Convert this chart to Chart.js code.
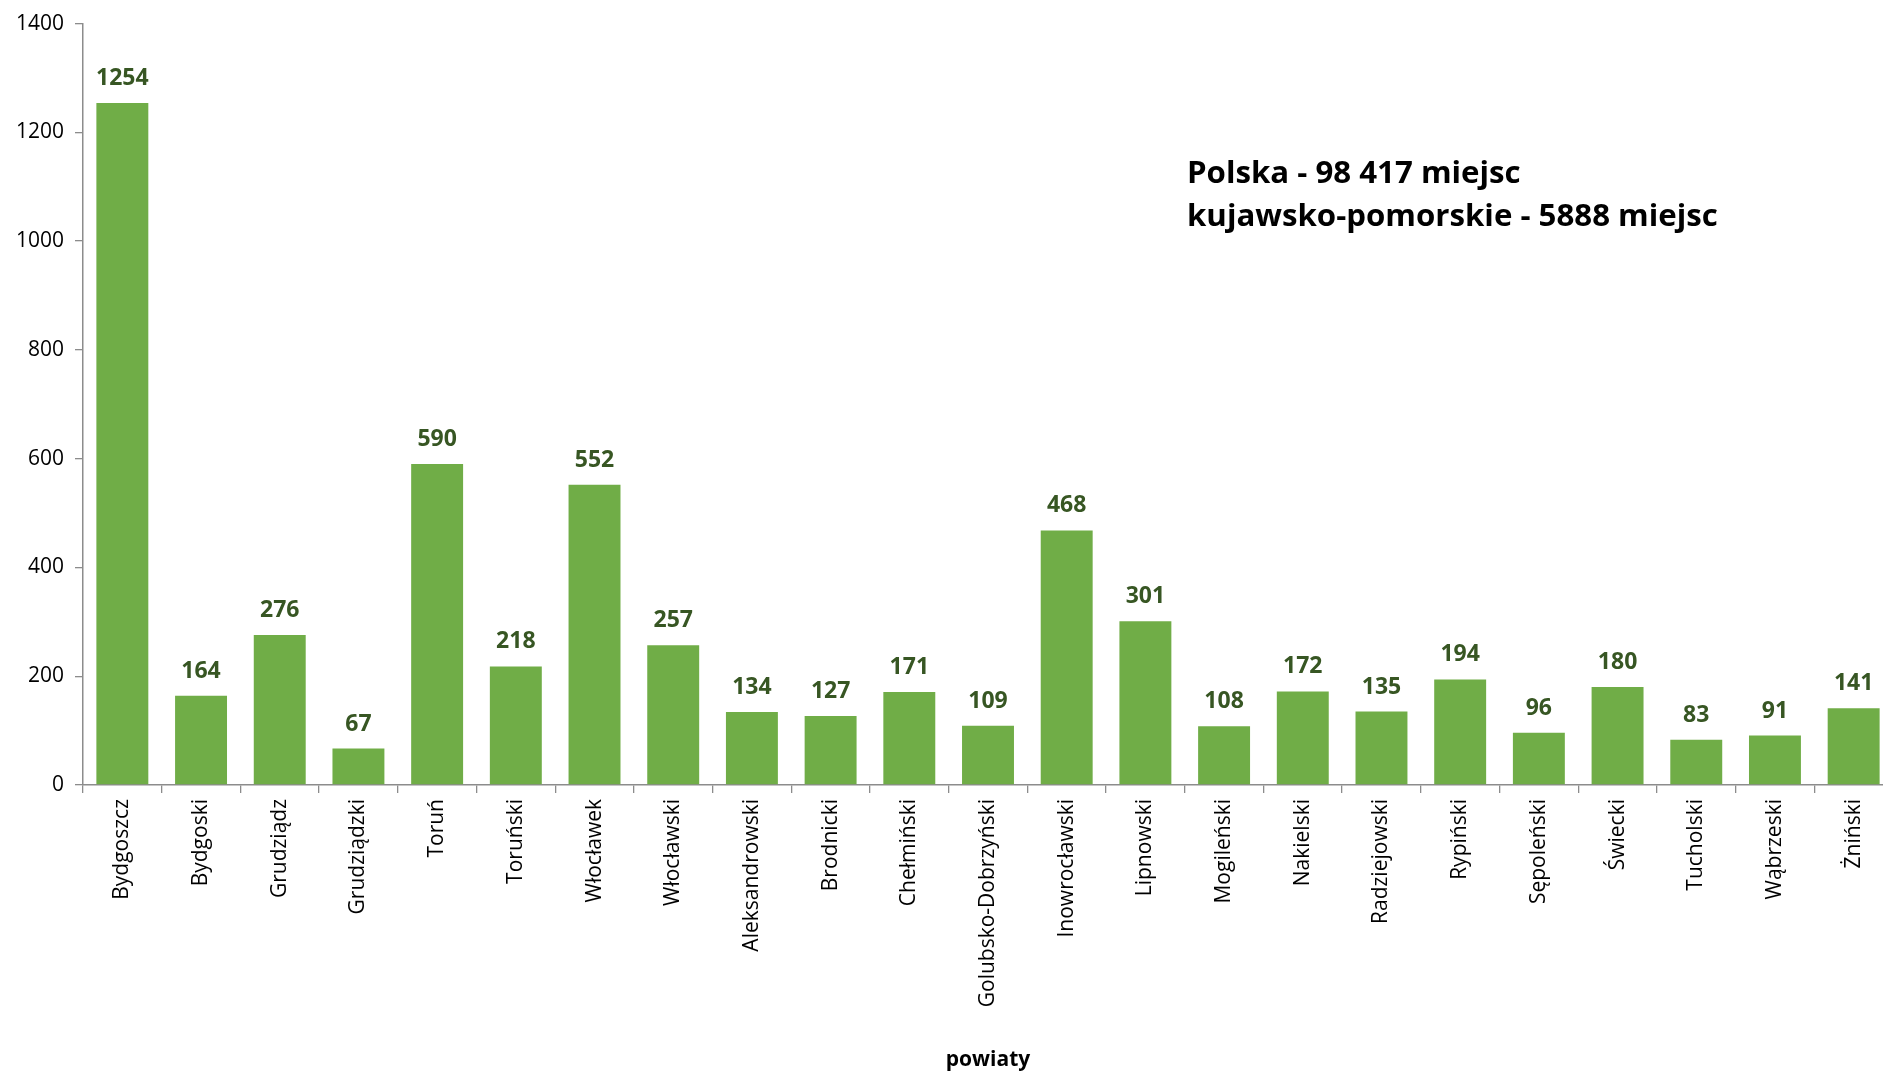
<!DOCTYPE html>
<html>
<head>
<meta charset="utf-8">
<script src="https://cdn.jsdelivr.net/npm/chart.js@4"></script>
<style>
  html, body { margin: 0; padding: 0; background: #fff; overflow: hidden; }
  #wrap { position: absolute; left: 0; top: 0; width: 1893px; height: 1073px; }
</style>
</head>
<body>
<div id="wrap"><canvas id="c" width="1893" height="1073"></canvas></div>
<script>
const categories = ["Bydgoszcz","Bydgoski","Grudziądz","Grudziądzki","Toruń","Toruński","Włocławek","Włocławski","Aleksandrowski","Brodnicki","Chełmiński","Golubsko-Dobrzyński","Inowrocławski","Lipnowski","Mogileński","Nakielski","Radziejowski","Rypiński","Sępoleński","Świecki","Tucholski","Wąbrzeski","Żniński"];
const values = [1254,164,276,67,590,218,552,257,134,127,171,109,468,301,108,172,135,194,96,180,83,91,141];
const yTicks = [0,200,400,600,800,1000,1200,1400];
const annotationLines = ["Polska - 98 417 miejsc", "kujawsko-pomorskie - 5888 miejsc"];
const xTitle = "powiaty";

const FONT = "'Open Sans', 'Noto Sans', sans-serif";

const valueLabels = {
  id: 'valueLabels',
  afterDatasetsDraw(chart) {
    const ctx = chart.ctx;
    const meta = chart.getDatasetMeta(0);
    ctx.save();
    ctx.font = "bold 23px " + FONT;
    ctx.fillStyle = "#375623";
    ctx.textAlign = "center";
    ctx.textBaseline = "alphabetic";
    meta.data.forEach((bar, i) => {
      const p = bar.getProps(['x','y'], true);
      ctx.fillText(String(values[i]), p.x, p.y - 18);
    });
    ctx.restore();
  }
};

const annotation = {
  id: 'annotation',
  afterDraw(chart) {
    const ctx = chart.ctx;
    ctx.save();
    ctx.fillStyle = "#000";
    ctx.textAlign = "left";
    ctx.textBaseline = "alphabetic";
    let size = 28;
    ctx.font = "bold " + size + "px " + FONT;
    const w = ctx.measureText(annotationLines[1]).width;
    size = size * 531 / w;
    ctx.font = "bold " + size.toFixed(2) + "px " + FONT;
    ctx.fillText(annotationLines[0], 1187, 183);
    ctx.fillText(annotationLines[1], 1187, 226);
    ctx.restore();
  }
};

new Chart(document.getElementById('c'), {
  type: 'bar',
  data: {
    labels: categories,
    datasets: [{
      data: values,
      backgroundColor: '#70AD47',
      borderWidth: 0,
      categoryPercentage: 1.0,
      barPercentage: 0.66
    }]
  },
  options: {
    responsive: false,
    animation: false,
    devicePixelRatio: 1,
    layout: { padding: { top: 23, right: 0, left: 0, bottom: 0 } },
    plugins: { legend: { display: false }, tooltip: { enabled: false } },
    scales: {
      x: {
        offset: true,
        grid: { display: true, drawOnChartArea: false, drawTicks: true, tickLength: 8, color: '#8C8C8C', lineWidth: 1.3 },
        border: { display: true, color: '#8C8C8C', width: 1.5 },
        ticks: { color: '#000', font: { family: FONT, size: 21 }, minRotation: 90, maxRotation: 90, padding: 6, autoSkip: false },
        title: { display: true, text: xTitle, color: '#000', font: { family: FONT, size: 21, weight: 'bold' }, padding: { top: 0, bottom: 0 } },
        afterFit(scale) { scale.height = 288; }
      },
      y: {
        min: 0, max: 1400,
        afterBuildTicks(scale) { scale.ticks = yTicks.map(v => ({ value: v })); },
        grid: { display: true, drawOnChartArea: false, drawTicks: true, tickLength: 8, color: '#8C8C8C', lineWidth: 1.3 },
        border: { display: true, color: '#8C8C8C', width: 1.5 },
        ticks: { color: '#000', font: { family: FONT, size: 21 }, padding: 11, callback: (v) => String(v) },
        afterFit(scale) { scale.width = 83; }
      }
    }
  },
  plugins: [valueLabels, annotation]
});
</script>
</body>
</html>
